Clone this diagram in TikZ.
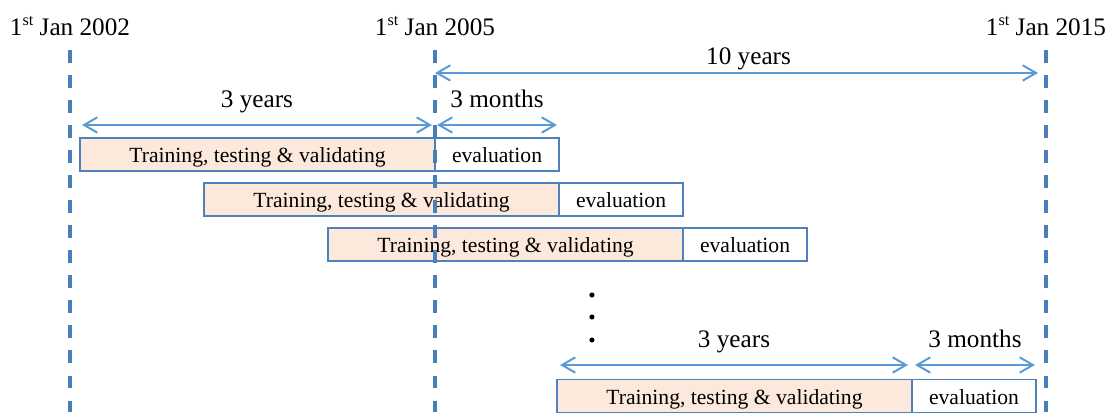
\documentclass[tikz,border=0pt]{standalone}
\usepackage{fontspec}
\setmainfont{Liberation Serif}
\usepackage{xcolor}
\usetikzlibrary{arrows.meta,positioning}
\definecolor{tlblue}{HTML}{4A7EBB}
\definecolor{arrblue}{HTML}{5B9BD5}
\definecolor{boxblue}{HTML}{4F81BD}
\definecolor{peach}{HTML}{FCE9DB}
\newcommand{\ordst}{\raisebox{0.42em}{\fontsize{9}{9}\selectfont st}}

\begin{document}
\begin{tikzpicture}[>={Straight Barb[length=2.6mm,width=3mm]},
  box/.style={draw=boxblue,line width=0.9pt,minimum height=0.644cm,inner sep=0pt,outer sep=0pt,
              text height=10pt,text depth=1pt,font=\fontsize{12}{14}\selectfont},
  train/.style={box,fill=peach,minimum width=6.927cm},
  evalbox/.style={box,fill=white,minimum width=2.42cm},
  date/.style={anchor=base,font=\fontsize{14}{16}\selectfont},
  lbl/.style={anchor=base,yshift=0.35cm,font=\fontsize{14}{16}\selectfont},
  tl/.style={draw=tlblue,line width=1.9pt,dash pattern=on 7.2pt off 6.7pt},
  span/.style={<->,draw=arrblue,line width=1.1pt}]

  \useasboundingbox (0,0) rectangle (21.756,8.039);

  % ==========================================
  % SLIDING WINDOWS
  % ==========================================
  \foreach \i/\x/\y in {1/1.561/5.024, 2/3.981/4.146, 3/6.401/3.268, 4/10.868/0.310} {
      \node[train,anchor=west] (tr\i) at (\x,\y) {Training, testing \& validating};
      \node[evalbox,right=0pt of tr\i] (ev\i) {evaluation};
  }

  % dots between the windows
  \foreach \y in {2.283,1.854,1.405} \fill (11.55,\y) circle (0.05);

  % ==========================================
  % TIMELINE MARKS
  % ==========================================
  \foreach \yr/\x in {2002/1.366,2005/8.488,2015/20.410} {
      \node[date] (d\yr) at (\x,7.337) {1\ordst\ Jan \yr};
      \coordinate (t\yr) at (\x,7.063);
      \coordinate (b\yr) at (\x,0);
      \draw[tl] (t\yr) -- (b\yr);
  }

  % ==========================================
  % SPANS
  % ==========================================
  \coordinate (tenA) at (8.488,6.615);
  \coordinate (tenB) at (20.254,6.615);
  \draw[span] (tenA) -- node[lbl,pos=0.52,yshift=-0.18cm] {10 years} (tenB);

  % first window
  \coordinate (yrA) at (1.600,5.600);
  \coordinate (yrB) at (8.429,5.600);
  \coordinate (moA) at (8.527,5.600);
  \coordinate (moB) at (10.868,5.600);
  \draw[span] (yrA) -- node[lbl] {3 years} (yrB);
  \draw[span] (moA) -- node[lbl] {3 months} (moB);

  % last window
  \coordinate (lyrA) at (10.927,0.917);
  \coordinate (lyrB) at (17.717,0.917);
  \coordinate (lmoA) at (17.854,0.917);
  \coordinate (lmoB) at (20.195,0.917);
  \draw[span] (lyrA) -- node[lbl] {3 years} (lyrB);
  \draw[span] (lmoA) -- node[lbl] {3 months} (lmoB);

\end{tikzpicture}
\end{document}
